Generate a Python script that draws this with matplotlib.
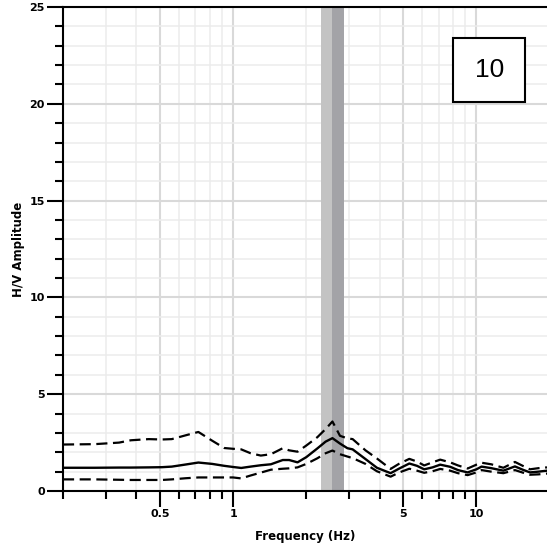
import numpy as np
import matplotlib.pyplot as plt
from matplotlib.patches import Rectangle
from matplotlib.ticker import FixedLocator, NullFormatter

# Frecuencias (Hz) y curvas H/V: promedio y +/- desviacion
freq = [0.2, 0.27, 0.34, 0.38, 0.45, 0.51, 0.56, 0.64, 0.72, 0.82, 0.92, 1.0,
        1.08, 1.18, 1.30, 1.43, 1.60, 1.70, 1.84, 2.0, 2.22, 2.40, 2.56, 2.75,
        2.95, 3.1, 3.5, 3.9, 4.44, 4.8, 5.3, 5.7, 6.1, 6.6, 7.1, 7.8, 8.4, 9.2,
        10.0, 10.5, 11.5, 12.9, 14.4, 15.5, 16.6, 18.0, 19.5]

hv_mean = [1.20, 1.20, 1.21, 1.21, 1.22, 1.23, 1.26, 1.37, 1.47, 1.40, 1.30, 1.24,
           1.19, 1.26, 1.33, 1.38, 1.60, 1.60, 1.48, 1.75, 2.20, 2.55, 2.73, 2.45,
           2.21, 2.15, 1.65, 1.20, 0.92, 1.15, 1.42, 1.30, 1.12, 1.22, 1.36, 1.25,
           1.08, 0.96, 1.12, 1.26, 1.18, 1.05, 1.27, 1.10, 0.96, 1.00, 1.05]

hv_upper = [2.40, 2.42, 2.50, 2.62, 2.68, 2.66, 2.68, 2.88, 3.05, 2.60, 2.22, 2.18,
            2.15, 1.95, 1.83, 1.90, 2.21, 2.10, 2.03, 2.35, 2.78, 3.20, 3.59, 2.85,
            2.72, 2.68, 2.10, 1.68, 1.14, 1.40, 1.66, 1.52, 1.32, 1.48, 1.62, 1.48,
            1.32, 1.16, 1.36, 1.46, 1.38, 1.20, 1.50, 1.30, 1.12, 1.18, 1.22]

hv_lower = [0.60, 0.60, 0.58, 0.57, 0.57, 0.57, 0.60, 0.66, 0.70, 0.70, 0.70, 0.70,
            0.65, 0.80, 0.95, 1.10, 1.15, 1.17, 1.22, 1.40, 1.69, 1.95, 2.09, 1.90,
            1.78, 1.70, 1.40, 1.02, 0.74, 0.95, 1.15, 1.05, 0.94, 1.02, 1.14, 1.05,
            0.92, 0.82, 0.96, 1.08, 1.00, 0.92, 1.08, 0.95, 0.84, 0.86, 0.90]

# Frecuencia fundamental y su desviacion
f0_min, f0, f0_max = 2.29, 2.56, 2.86

x_major = [0.5, 1, 5, 10]
x_minor = [0.2, 0.3, 0.4, 0.6, 0.7, 0.8, 0.9, 2, 3, 4, 6, 7, 8, 9, 20]
x_labels = ["0.5", "1", "5", "10"]

fig = plt.figure(figsize=(5.47, 5.5), dpi=100)
ax = fig.add_axes([63/547, 59/550, 484/547, 484/550])

ax.set_xscale("log")
ax.set_xlim(0.2, 19.5)
ax.set_ylim(0, 25)

ax.xaxis.set_major_locator(FixedLocator(x_major))
ax.xaxis.set_minor_locator(FixedLocator(x_minor))
ax.xaxis.set_minor_formatter(NullFormatter())
ax.set_xticklabels(x_labels)
ax.yaxis.set_major_locator(FixedLocator([0, 5, 10, 15, 20, 25]))
ax.yaxis.set_minor_locator(FixedLocator(np.arange(0, 26, 1)))

ax.grid(which="major", color="#d9d9d9", lw=1.5, zorder=0)
ax.grid(which="minor", color="#ececec", lw=1.1, zorder=0)
ax.set_axisbelow(True)

ax.axvspan(f0_min, f0, color="#c3c3c3", lw=0, zorder=1)
ax.axvspan(f0, f0_max, color="#a3a3a7", lw=0, zorder=1)

ax.plot(freq, hv_mean, color="black", lw=1.7, zorder=3)
ax.plot(freq, hv_upper, color="black", lw=1.6, dashes=(5, 2.5), zorder=3)
ax.plot(freq, hv_lower, color="black", lw=1.6, dashes=(5, 2.5), zorder=3)

for s in ["left", "bottom", "top"]:
    ax.spines[s].set_linewidth(1.5)
ax.spines["right"].set_visible(False)

ax.tick_params(which="major", length=11.5, width=1.5, pad=1.5, labelsize=8)
ax.tick_params(which="minor", length=6, width=1.5)
for lab in ax.get_xticklabels() + ax.get_yticklabels():
    lab.set_fontweight("bold")

ax.set_xlabel("Frequency (Hz)", fontsize=8.5, fontweight="bold", labelpad=8)
ax.set_ylabel("H/V Amplitude", fontsize=8.5, fontweight="bold", labelpad=3)

# recuadro con el numero del punto
ax.add_patch(Rectangle((0.806, 0.804), 0.149, 0.132, transform=ax.transAxes,
                       facecolor="white", edgecolor="black", lw=1.5, zorder=5))
ax.text(0.8805, 0.87, "10", transform=ax.transAxes, ha="center", va="center",
        fontsize=19, family="Liberation Sans", zorder=6)

plt.savefig("out.png", dpi=100)
